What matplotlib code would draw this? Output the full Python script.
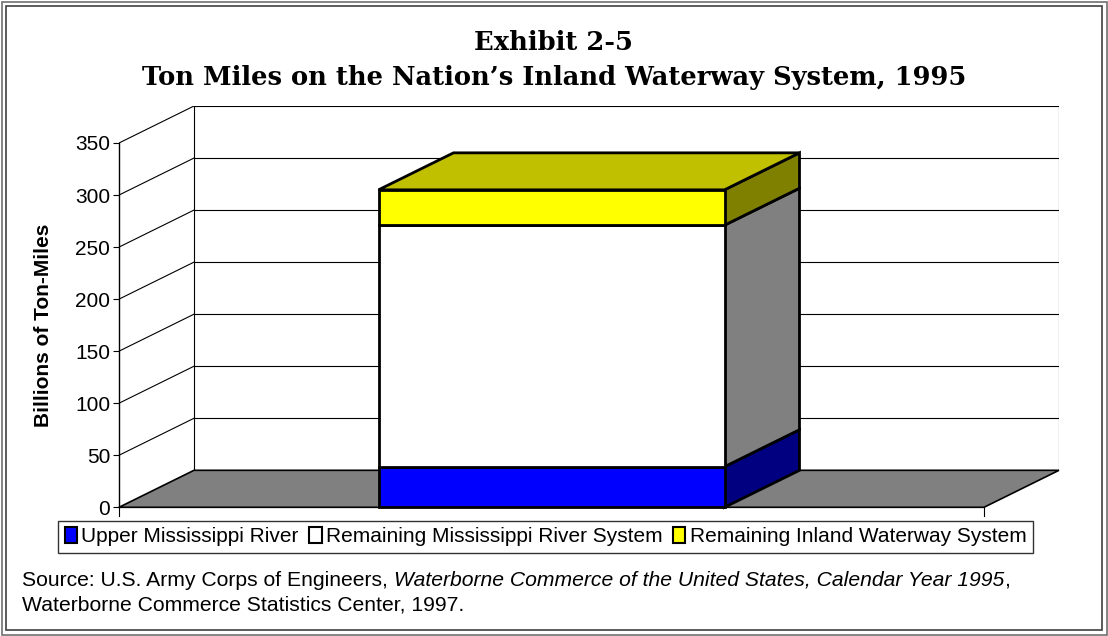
import matplotlib
matplotlib.use("Agg")
import matplotlib.pyplot as plt
from matplotlib.patches import Polygon, Rectangle

# Ton-miles (billions), 1995, stacked bottom to top
segment_names = ['Upper Mississippi River',
                 'Remaining Mississippi River System',
                 'Remaining Inland Waterway System']
segment_values = [39, 232, 34]
y_ticks = [0, 50, 100, 150, 200, 250, 300, 350]

front_colors = ['#0000FF', '#FFFFFF', '#FFFF00']
side_colors = ['#000080', '#808080', '#808000']
top_color = '#C0C000'

W, H = 1108, 636
fig = plt.figure(figsize=(W / 100, H / 100), dpi=100)
plt.rcParams['font.family'] = ['Liberation Sans', 'DejaVu Sans']

# plot box geometry (pixels)
x_front0, x_back1 = 119, 1059
y_zero, y_back_top = 507.3, 106
front_width = 865
depth_x, depth_y = 75, 37
px_per_unit = (y_zero - y_back_top - depth_y) / 350

dxu = depth_x / front_width
dyu = depth_y / px_per_unit

ax = fig.add_axes([x_front0 / W, (H - y_zero) / H,
                   (x_back1 - x_front0) / W, (y_zero - y_back_top) / H])
ax.set_xlim(0, 1 + dxu)
ax.set_ylim(0, 350 + dyu)
ax.patch.set_visible(False)
for s in ['top', 'right', 'bottom']:
    ax.spines[s].set_visible(False)
ax.spines['left'].set_bounds(0, 350)
ax.spines['left'].set_linewidth(1.0)
ax.set_xticks([])
ax.set_yticks(y_ticks)
ax.tick_params(axis='y', length=4.3, width=0.8, labelsize=15, pad=2)
ax.set_ylabel('Billions of Ton-Miles', fontsize=15, fontweight='bold')
ax.yaxis.set_label_coords(-0.070, 0.453)

# back wall and side-wall gridlines
lw_grid = 0.8
for v in y_ticks[1:]:
    ax.plot([dxu, 1 + dxu], [v + dyu, v + dyu], color='black', lw=lw_grid, zorder=1)
    ax.plot([0, dxu], [v, v + dyu], color='black', lw=lw_grid, zorder=1)
ax.plot([dxu, dxu], [dyu, 350 + dyu], color='black', lw=lw_grid, zorder=1)
ax.plot([1 + dxu, 1 + dxu], [dyu, 350 + dyu], color='black', lw=lw_grid, zorder=1)

# floor
floor = Polygon([(0, 0), (1, 0), (1 + dxu, dyu), (dxu, dyu)], closed=True,
                facecolor='#808080', edgecolor='black', lw=1.2, zorder=2,
                clip_on=False)
ax.add_patch(floor)
tick_len = 9 / px_per_unit
for xx in [0, 1]:
    ax.plot([xx, xx], [0, -tick_len], color='black', lw=0.8, clip_on=False, zorder=2)

# stacked 3-D bar
bar_l, bar_r = 0.3, 0.7
bottom = 0
for i, val in enumerate(segment_values):
    top = bottom + val
    ax.add_patch(Rectangle((bar_l, bottom), bar_r - bar_l, val,
                           facecolor=front_colors[i], edgecolor='black',
                           lw=2, zorder=4, clip_on=False))
    ax.add_patch(Polygon([(bar_r, bottom), (bar_r + dxu, bottom + dyu),
                          (bar_r + dxu, top + dyu), (bar_r, top)], closed=True,
                         facecolor=side_colors[i], edgecolor='black',
                         lw=2, zorder=3, clip_on=False))
    bottom = top
ax.add_patch(Polygon([(bar_l, bottom), (bar_r, bottom),
                      (bar_r + dxu, bottom + dyu), (bar_l + dxu, bottom + dyu)],
                     closed=True, facecolor=top_color, edgecolor='black',
                     lw=2, zorder=3, clip_on=False))

# legend
handles = [Rectangle((0, 0), 1, 1, facecolor=c, edgecolor='black', lw=1.5)
           for c in front_colors]
leg = fig.legend(handles, segment_names, loc='center',
                 bbox_to_anchor=(545.5 / W, 1 - 536.7 / H), ncol=3,
                 frameon=True, fancybox=False, edgecolor='black',
                 handlelength=0.6, handleheight=0.8, handletextpad=0.2,
                 columnspacing=0.5, borderpad=0.3, borderaxespad=0,
                 fontsize=15)
leg.get_frame().set_linewidth(1.0)

# titles
fig.text(554 / W, 1 - 42 / H, 'Exhibit 2-5', ha='center', va='center',
         family='DejaVu Serif', fontweight='bold', fontsize=18.5)
fig.text(554 / W, 1 - 77 / H,
         'Ton Miles on the Nation\u2019s Inland Waterway System, 1995',
         ha='center', va='center', family='DejaVu Serif',
         fontweight='bold', fontsize=18.5)

# source note
src1 = fig.text(22 / W, 1 - 580 / H, 'Source: U.S. Army Corps of Engineers, ',
                ha='left', va='center', fontsize=15.2)
src2 = ax.annotate('Waterborne Commerce of the United States, Calendar Year 1995',
                   xy=(1, 0), xycoords=src1, ha='left', va='bottom',
                   fontsize=15.2, fontstyle='italic', annotation_clip=False)
ax.annotate(',', xy=(1, 0), xycoords=src2, ha='left', va='bottom',
            fontsize=15.2, annotation_clip=False)
fig.text(22 / W, 1 - 605 / H, 'Waterborne Commerce Statistics Center, 1997.',
         ha='left', va='center', fontsize=15.2)

# double frame round the figure
fig.add_artist(Rectangle((1.5 / W, 1.5 / H), (W - 3) / W, (H - 3) / H,
                         transform=fig.transFigure, fill=False,
                         edgecolor='#707070', lw=1.2))
fig.add_artist(Rectangle((6 / W, 6 / H), (W - 12) / W, (H - 12) / H,
                         transform=fig.transFigure, fill=False,
                         edgecolor='#404040', lw=1.2))

fig.savefig('out.png', dpi=100)
